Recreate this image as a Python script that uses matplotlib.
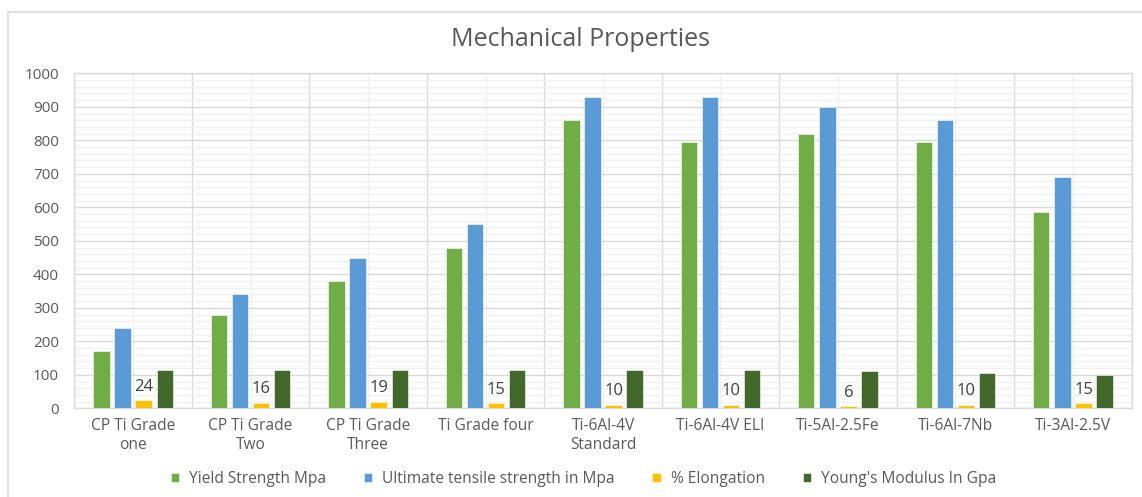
"""
Mechanical properties of titanium grades: grouped bar chart.
"""
import matplotlib

matplotlib.use("Agg")
import matplotlib.pyplot as plt
import numpy as np
from matplotlib.patches import Rectangle
from matplotlib.ticker import MultipleLocator


categories = [
    "CP Ti Grade\none",
    "CP Ti Grade\nTwo",
    "CP Ti Grade\nThree",
    "Ti Grade four",
    "Ti-6Al-4V\nStandard",
    "Ti-6Al-4V ELI",
    "Ti-5Al-2.5Fe",
    "Ti-6Al-7Nb",
    "Ti-3Al-2.5V",
]
yield_strength = [170, 280, 380, 480, 860, 795, 820, 795, 585]
tensile_strength = [240, 340, 450, 550, 930, 930, 900, 860, 690]
elongation = [24, 16, 19, 15, 10, 10, 6, 10, 15]
youngs_modulus = [115, 115, 115, 115, 115, 115, 110, 105, 100]

series_names = [
    "Yield Strength Mpa",
    "Ultimate tensile strength in Mpa",
    "% Elongation",
    "Young's Modulus In Gpa",
]
series_colors = ["#70ad47", "#5b9bd5", "#ffc000", "#43682b"]

TEXT = "#595959"
GRID_MAJOR = "#d9d9d9"
GRID_MINOR = "#f0f0f0"

plt.rcParams["font.family"] = ["Open Sans", "DejaVu Sans"]

fig = plt.figure(figsize=(11.42, 4.97), dpi=100)
fig.patch.set_facecolor("white")

# light chart border like the spreadsheet frame
fig.add_artist(Rectangle((8 / 1142, -0.01), 1.2, 1 - 12 / 497 + 0.01,
                         transform=fig.transFigure, fill=False,
                         edgecolor="#d9d9d9", linewidth=1.2))

ax = fig.add_axes([74.3 / 1142, 1 - 408.3 / 497, (1131.7 - 74.3) / 1142, (408.3 - 73.3) / 497])

x = np.arange(len(categories))
width = 0.14
step = 0.18
all_series = [yield_strength, tensile_strength, elongation, youngs_modulus]
bars = []
for i, (vals, name, color) in enumerate(zip(all_series, series_names, series_colors)):
    b = ax.bar(x + (i - 1.5) * step, vals, width, color=color, label=name,
               edgecolor="white", linewidth=0.4, zorder=3)
    bars.append(b)

ax.bar_label(bars[2], labels=[str(v) for v in elongation], padding=4,
             fontsize=12, color="#404040", zorder=4)

ax.set_xlim(-0.5, len(categories) - 0.5)
ax.set_ylim(0, 1000)
ax.yaxis.set_major_locator(MultipleLocator(100))
ax.yaxis.set_minor_locator(MultipleLocator(20))
ax.set_xticks(x)
ax.set_xticklabels(categories, fontsize=11.2, color=TEXT, linespacing=1.25)
ax.set_xticks(np.arange(len(categories) + 1) - 0.5, minor=True)

# horizontal grid: major every 100, minor every 20
ax.grid(axis="y", which="major", color=GRID_MAJOR, linewidth=1.0, zorder=0)
ax.grid(axis="y", which="minor", color=GRID_MINOR, linewidth=1.0, zorder=0)
# vertical grid: category boundaries (darker) and centers (lighter)
ax.grid(axis="x", which="minor", color=GRID_MAJOR, linewidth=1.0, zorder=0)
ax.grid(axis="x", which="major", color=GRID_MINOR, linewidth=1.0, zorder=0)

ax.tick_params(axis="y", which="both", length=0, labelsize=11, labelcolor=TEXT, pad=11)
ax.tick_params(axis="x", which="both", length=0, pad=7)
for side in ["top", "right", "left", "bottom"]:
    ax.spines[side].set_color(GRID_MAJOR)
    ax.spines[side].set_linewidth(1.0)

fig.text(0.508, 1 - 39 / 497, "Mechanical Properties", ha="center", va="center",
         fontsize=18, color=TEXT)

fig.legend(handles=bars, labels=series_names, loc="center", ncol=4,
           bbox_to_anchor=(0.511, 1 - 479 / 497), frameon=False,
           fontsize=11.2, labelcolor=TEXT, handlelength=0.55, handleheight=0.55,
           handletextpad=0.65, columnspacing=2.4)

fig.savefig("out.png", dpi=100, facecolor="white")
